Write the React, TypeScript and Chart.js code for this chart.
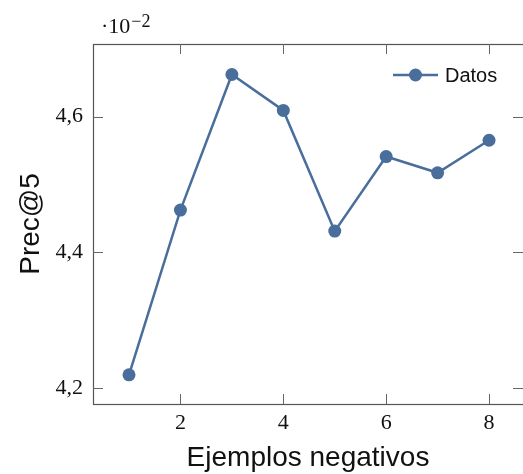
import React, { useEffect, useRef } from "react";
import { Chart, registerables } from "chart.js";

Chart.register(...registerables);

const negExamples = [1, 2, 3, 4, 5, 6, 7, 8];
const precAt5 = [4.219, 4.462, 4.662, 4.609, 4.431, 4.541, 4.517, 4.565];
const xTicks = [2, 4, 6, 8];
const yTicks = [4.2, 4.4, 4.6];
const seriesLabel = "Datos";
const xTitle = "Ejemplos negativos";
const yTitle = "Prec@5";
const expBase = "·10";
const expPow = "−2";

const COLOR = "#4a6e9b";
const FRAME = "#555555";
const SERIF = "'Liberation Serif', 'DejaVu Serif', serif";
const SANS = "'Liberation Sans', Arial, sans-serif";

const framePlugin = {
  id: "framePlugin",
  afterDraw(chart: any) {
    const { ctx, chartArea } = chart;
    const { left, right, top, bottom } = chartArea;
    const xs = chart.scales.x;
    const ys = chart.scales.y;
    ctx.save();
    ctx.strokeStyle = FRAME;
    ctx.lineWidth = 1.2;
    ctx.strokeRect(left + 0.5, top + 0.5, right - left + 2, bottom - top);
    const tl = 10;
    ctx.strokeStyle = "#666666";
    ctx.lineWidth = 1;
    for (const v of xTicks) {
      const px = Math.round(xs.getPixelForValue(v)) + 0.5;
      ctx.beginPath();
      ctx.moveTo(px, bottom);
      ctx.lineTo(px, bottom - tl);
      ctx.moveTo(px, top);
      ctx.lineTo(px, top + tl);
      ctx.stroke();
    }
    for (const v of yTicks) {
      const py = Math.round(ys.getPixelForValue(v)) + 0.5;
      ctx.beginPath();
      ctx.moveTo(left, py);
      ctx.lineTo(left + tl, py);
      ctx.moveTo(right, py);
      ctx.lineTo(right - tl, py);
      ctx.stroke();
    }
    // exponent label
    ctx.fillStyle = "#111111";
    ctx.textBaseline = "alphabetic";
    ctx.textAlign = "left";
    ctx.font = `22px ${SERIF}`;
    ctx.fillText(expBase, 101, 33);
    const w = ctx.measureText(expBase).width;
    ctx.font = `18px ${SERIF}`;
    ctx.fillText(expPow, 101 + w + 1, 27);
    // legend
    const ly = 75;
    ctx.strokeStyle = COLOR;
    ctx.lineWidth = 2.5;
    ctx.beginPath();
    ctx.moveTo(393, ly);
    ctx.lineTo(438, ly);
    ctx.stroke();
    ctx.fillStyle = COLOR;
    ctx.beginPath();
    ctx.arc(415.5, ly, 6.5, 0, Math.PI * 2);
    ctx.fill();
    ctx.fillStyle = "#111111";
    ctx.font = `20px ${SANS}`;
    ctx.textBaseline = "middle";
    ctx.fillText(seriesLabel, 445, ly + 1);
    ctx.restore();
  },
};

export default function App() {
  const ref = useRef<HTMLCanvasElement>(null);
  useEffect(() => {
    if (!ref.current) return;
    const chart = new Chart(ref.current, {
      type: "line",
      data: {
        datasets: [
          {
            label: seriesLabel,
            data: negExamples.map((x, i) => ({ x, y: precAt5[i] })),
            borderColor: COLOR,
            backgroundColor: COLOR,
            borderWidth: 2.5,
            pointRadius: 6.5,
            pointHoverRadius: 6.5,
            pointBackgroundColor: COLOR,
            pointBorderWidth: 0,
            tension: 0,
          },
        ],
      },
      options: {
        responsive: false,
        animation: false,
        layout: { autoPadding: false, padding: { top: 44, right: 0, left: 0, bottom: 0 } },
        plugins: { legend: { display: false }, tooltip: { enabled: false } },
        scales: {
          x: {
            type: "linear",
            min: 0.3,
            max: 8.66,
            afterBuildTicks: (s: any) => {
              s.ticks = xTicks.map((v) => ({ value: v }));
            },
            afterFit: (s: any) => {
              s.height = 70;
              s.paddingLeft = 0;
              s.paddingRight = 0;
            },
            grid: { display: false, drawTicks: false },
            border: { display: false },
            ticks: {
              padding: 6,
              color: "#111111",
              font: { family: SERIF, size: 22 },
              callback: (v: any) => String(v),
              maxRotation: 0,
            },
            title: {
              display: true,
              text: xTitle,
              color: "#111111",
              font: { family: SANS, size: 28 },
              padding: { bottom: -1, top: 0 },
            },
          },
          y: {
            type: "linear",
            min: 4.176,
            max: 4.707,
            afterBuildTicks: (s: any) => {
              s.ticks = yTicks.map((v) => ({ value: v }));
            },
            afterFit: (s: any) => {
              s.width = 93;
              s.paddingTop = 0;
              s.paddingBottom = 0;
            },
            grid: { display: false, drawTicks: false },
            border: { display: false },
            ticks: {
              padding: 10,
              color: "#111111",
              font: { family: SERIF, size: 22 },
              callback: (v: any) => Number(v).toFixed(1).replace(".", ","),
            },
            title: {
              display: true,
              text: yTitle,
              color: "#111111",
              font: { family: SANS, size: 28 },
              padding: { top: 14, bottom: 0 },
            },
          },
        },
      },
      plugins: [framePlugin],
    });
    return () => chart.destroy();
  }, []);
  return (
    <div style={{ position: "fixed", left: 0, top: 0, width: 523, height: 474, background: "#fff" }}>
      <canvas ref={ref} width={523} height={474} style={{ width: 523, height: 474 }} />
    </div>
  );
}
